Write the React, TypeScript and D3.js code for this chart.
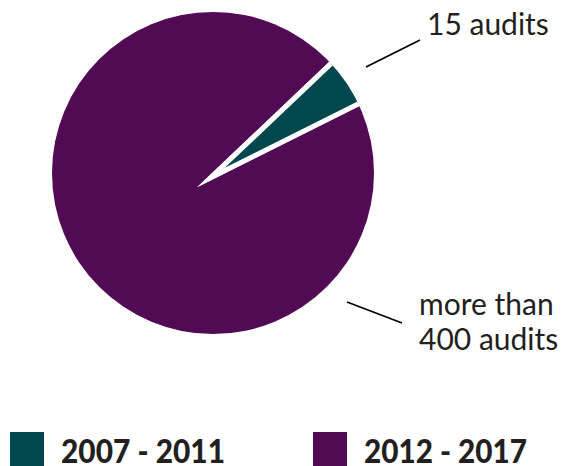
import React from 'react';
import * as d3 from 'd3';

// Data
const categories: string[] = ['2007 - 2011', '2012 - 2017'];
const sharePercent: number[] = [4.7, 95.3]; // share of the circle, as drawn
const sliceLabels: string[][] = [['15 audits'], ['more than', '400 audits']];
const sliceColors: string[] = ['#00474e', '#510a53'];

const W = 568;
const H = 466;
const circleCenter = { x: 213, y: 173 };
const sliceApex = { x: 211, y: 177.5 };
const R = 161;
const startDeg = 46.5;
const textColor = '#231f20';

export default function App() {
  const deg = Math.PI / 180;
  const pie = d3
    .pie<number>()
    .sort(null)
    .value((d) => d)
    .startAngle(startDeg * deg)
    .endAngle((startDeg + 360) * deg);
  const arcs = pie(sharePercent);
  const arcGen = d3.arc<d3.PieArcDatum<number>>().innerRadius(0).outerRadius(420);

  // label leader lines (layout)
  const leaders = [
    { x1: 366, y1: 67, x2: 420, y2: 40 },
    { x1: 347, y1: 302, x2: 402, y2: 323 },
  ];
  const labelPos = [
    { x: 427, y: 35 },
    { x: 419, y: 315 },
  ];
  const lineGap = 35;

  const legendX = [10, 313];
  const legendTextLen = [164, 163];

  const drawOrder = [1, 0];

  return (
    <svg
      width={W}
      height={H}
      style={{ position: 'absolute', left: 0, top: 0, display: 'block' }}
    >
      <defs>
        <clipPath id="pieClip">
          <circle
            cx={circleCenter.x - sliceApex.x}
            cy={circleCenter.y - sliceApex.y}
            r={R}
          />
        </clipPath>
      </defs>
      <g transform={`translate(${sliceApex.x},${sliceApex.y})`}>
        <g clipPath="url(#pieClip)">
          {drawOrder.map((i) => (
            <path
              key={i}
              d={arcGen(arcs[i]) || ''}
              fill={sliceColors[i]}
              stroke="#ffffff"
              strokeWidth={5}
              strokeLinejoin="miter"
              strokeMiterlimit={20}
            />
          ))}
        </g>
      </g>
      {leaders.map((l, i) => (
        <line
          key={i}
          x1={l.x1}
          y1={l.y1}
          x2={l.x2}
          y2={l.y2}
          stroke="#000"
          strokeWidth={1.6}
        />
      ))}
      {sliceLabels.map((lines, i) => (
        <text
          key={i}
          x={labelPos[i].x}
          y={labelPos[i].y}
          fontFamily="Lato, 'Noto Sans', sans-serif"
          fontSize={30}
          fill={textColor}
        >
          {lines.map((t, j) => (
            <tspan key={j} x={labelPos[i].x} y={labelPos[i].y + j * lineGap}>
              {t}
            </tspan>
          ))}
        </text>
      ))}
      {categories.map((c, i) => (
        <g key={c}>
          <rect x={legendX[i]} y={432} width={34} height={34} fill={sliceColors[i]} />
          <text
            x={legendX[i] + 51}
            y={463}
            fontFamily="Lato, 'Noto Sans', sans-serif"
            fontWeight={900}
            fontSize={33}
            fill={textColor}
            textLength={legendTextLen[i]}
            lengthAdjust="spacingAndGlyphs"
          >
            {c}
          </text>
        </g>
      ))}
    </svg>
  );
}
